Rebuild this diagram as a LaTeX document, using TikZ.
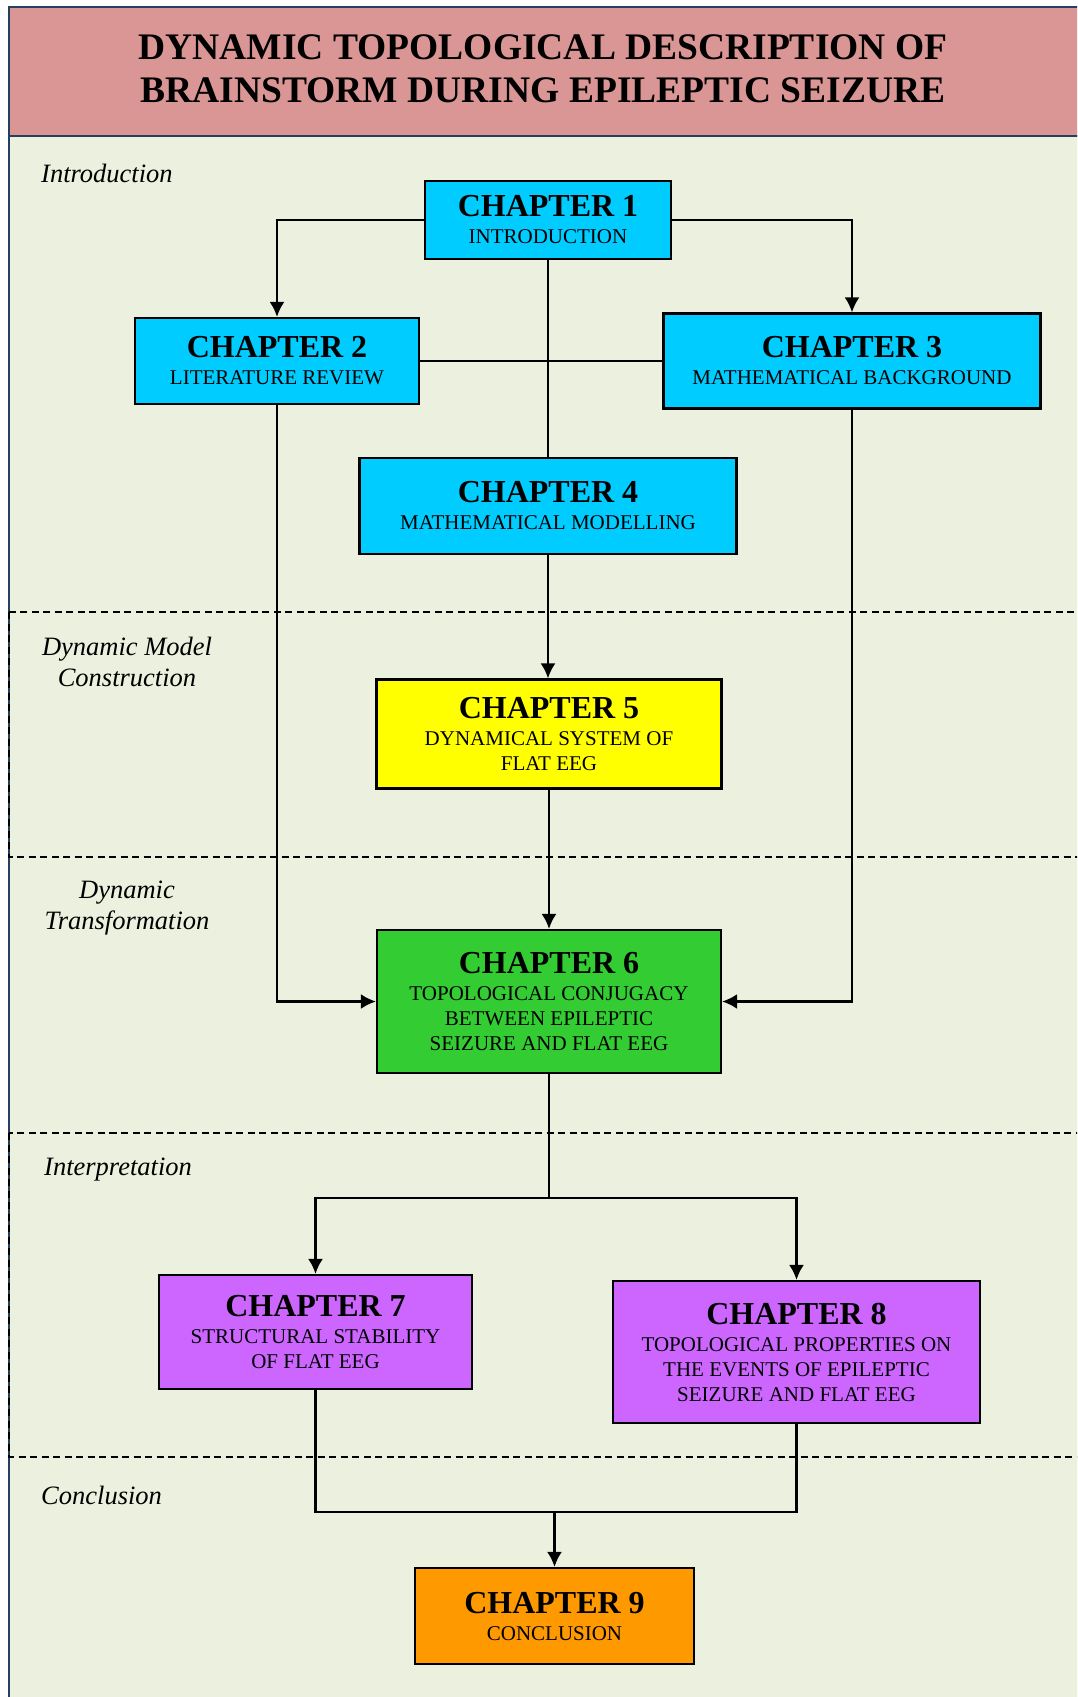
\documentclass[tikz,border=0pt]{standalone}
\usepackage{fontspec}
\setmainfont{Liberation Serif}
\usetikzlibrary{arrows.meta}
\definecolor{titlered}{HTML}{D99694}
\definecolor{bggreen}{HTML}{EBF1DE}
\definecolor{frameblue}{HTML}{243F60}
\definecolor{chcyan}{HTML}{00CCFF}
\definecolor{chyellow}{HTML}{FFFF00}
\definecolor{chgreen}{HTML}{33CC33}
\definecolor{chpurple}{HTML}{CC66FF}
\definecolor{chorange}{HTML}{FF9900}
\newcommand{\chap}[1]{{\fontsize{32}{27}\selectfont\bfseries CHAPTER #1}\\[2pt]}
\begin{document}
\begin{tikzpicture}[x=1pt,y=-1pt,>={Latex[length=15pt,width=15pt]},
 chapbox/.style={draw=black,line width=2.2pt,inner sep=0pt,align=center,font=\fontsize{21}{25}\selectfont},
 part/.style={font=\fontsize{26.5}{31}\selectfont\itshape,align=center,inner sep=0pt},
 link/.style={line width=2.3pt},
 sect/.style={dash pattern=on 7pt off 4.5pt,line width=1.8pt}]
\useasboundingbox (0,0) rectangle (1077,1697);
\fill[white] (0,0) rectangle (1077,1697);
\clip (0,0) rectangle (1077,1697);
% frame and title band
\draw[frameblue,fill=bggreen,line width=1.5pt] (9,136) rectangle (1090,1710);
\draw[frameblue,fill=titlered,line width=1.5pt] (9,7) rectangle (1090,136);
\node[font=\fontsize{37.5}{43}\selectfont\bfseries,align=center] (title) at (543,69) {DYNAMIC TOPOLOGICAL DESCRIPTION OF\\BRAINSTORM DURING EPILEPTIC SEIZURE};
% sections
\draw[sect] (9,612) rectangle (1090,857);
\draw[sect] (9,1133) rectangle (1090,1457);
\node[part,anchor=base west] (intro) at (41,182) {Introduction};
\node[part] (model) at (127,662) {Dynamic Model\\Construction};
\node[part] (transf) at (127,908) {Dynamic\\Transformation};
\node[part,anchor=base west] (interp) at (44,1175) {Interpretation};
\node[part,anchor=base west] (concl) at (41,1504) {Conclusion};
% chapters
\node[chapbox,fill=chcyan,minimum width=246pt,minimum height=78pt] (ch1) at (548,220) {\chap{1}INTRODUCTION};
\node[chapbox,fill=chcyan,minimum width=284pt,minimum height=86pt] (ch2) at (277,361) {\chap{2}LITERATURE REVIEW};
\node[chapbox,fill=chcyan,minimum width=377pt,minimum height=95pt] (ch3) at (852,361) {\chap{3}MATHEMATICAL BACKGROUND};
\node[chapbox,fill=chcyan,minimum width=377pt,minimum height=96pt] (ch4) at (548,506) {\chap{4}MATHEMATICAL MODELLING};
\node[chapbox,fill=chyellow,minimum width=345pt,minimum height=109pt] (ch5) at (549,734) {\chap{5}DYNAMICAL SYSTEM OF\\FLAT EEG};
\node[chapbox,fill=chgreen,minimum width=344pt,minimum height=143pt] (ch6) at (549,1001.5) {\chap{6}TOPOLOGICAL CONJUGACY\\BETWEEN EPILEPTIC\\SEIZURE AND FLAT EEG};
\node[chapbox,fill=chpurple,minimum width=313pt,minimum height=114pt] (ch7) at (315.5,1332) {\chap{7}STRUCTURAL STABILITY\\OF FLAT EEG};
\node[chapbox,fill=chpurple,minimum width=367pt,minimum height=142pt] (ch8) at (796.5,1352) {\chap{8}TOPOLOGICAL PROPERTIES ON\\THE EVENTS OF EPILEPTIC\\SEIZURE AND FLAT EEG};
\node[chapbox,fill=chorange,minimum width=279pt,minimum height=96pt] (ch9) at (554.5,1616) {\chap{9}CONCLUSION};
% connectors
\coordinate (split) at (549,1198);
\coordinate (join) at (554.5,1512);
\draw[link,->] (ch1.west) -| (ch2.north);
\draw[link,->] (ch1.east) -| (ch3.north);
\draw[link] (ch1.south) -- (ch4.north);
\draw[link] (ch2.east) -- (ch3.west);
\draw[link,->] (ch4.south) -- (ch4.south |- ch5.north);
\draw[link,->] (ch5) -- (ch6);
\draw[link,->] (ch2.south) |- (ch6.west);
\draw[link,->] (ch3.south) |- (ch6.east);
\draw[link] (ch6.south) -- (split);
\draw[link,->] (split) -| (ch7.north);
\draw[link,->] (split) -| (ch8.north);
\draw[link] (ch7.south) |- (join);
\draw[link] (ch8.south) |- (join);
\draw[link,->] (join) -- (ch9.north);
\end{tikzpicture}
\end{document}
